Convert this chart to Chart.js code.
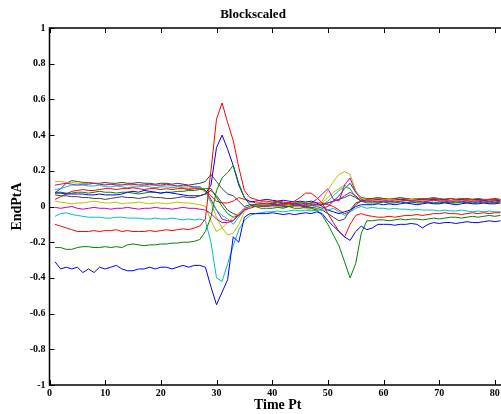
<!DOCTYPE html>
<html>
<head>
<meta charset="utf-8">
<title>Blockscaled</title>
<script src="https://cdn.jsdelivr.net/npm/chart.js@4/dist/chart.umd.min.js"></script>
<style>
  html, body { margin: 0; padding: 0; background: #fff; overflow: hidden; }
  #myChart { display: block; }
</style>
</head>
<body>
<canvas id="myChart" width="506" height="414"></canvas>
<script>
// time points 1..81
const timePts = [1, 2, 3, 4, 5, 6, 7, 8, 9, 10, 11, 12, 13, 14, 15, 16, 17, 18, 19, 20,
  21, 22, 23, 24, 25, 26, 27, 28, 29, 30, 31, 32, 33, 34, 35, 36, 37, 38, 39, 40,
  41, 42, 43, 44, 45, 46, 47, 48, 49, 50, 51, 52, 53, 54, 55, 56, 57, 58, 59, 60,
  61, 62, 63, 64, 65, 66, 67, 68, 69, 70, 71, 72, 73, 74, 75, 76, 77, 78, 79, 80, 81];

const xTicks = [0, 10, 20, 30, 40, 50, 60, 70, 80];

// end point traces, one per channel
const trace01 = [-0.31, -0.35, -0.34, -0.35, -0.34, -0.37, -0.35, -0.37, -0.34, -0.35, -0.34, -0.33, -0.35, -0.36, -0.36, -0.35, -0.35, -0.34, -0.35, -0.34, -0.34, -0.35, -0.34, -0.33, -0.34, -0.33, -0.33,
  -0.34, -0.45, -0.55, -0.48, -0.41, -0.17, -0.2, -0.06, -0.04,
  -0.04, -0.04, -0.04, -0.035, -0.04, -0.045, -0.04, -0.045, -0.04, -0.035, -0.04, -0.03,
  -0.04, -0.08, -0.11, -0.14, -0.17, -0.19, -0.14, -0.11, -0.13,
  -0.12, -0.1, -0.1, -0.1, -0.105, -0.1, -0.1, -0.095, -0.1, -0.12, -0.1, -0.09, -0.095, -0.09, -0.09, -0.095, -0.09, -0.085, -0.09, -0.09, -0.085, -0.08, -0.085, -0.08];
const trace02 = [-0.23, -0.23, -0.24, -0.24, -0.23, -0.225, -0.225, -0.23, -0.23, -0.225, -0.23, -0.225, -0.23, -0.215, -0.21, -0.215, -0.22, -0.215, -0.215, -0.21, -0.21, -0.205, -0.205, -0.2, -0.2, -0.195, -0.185,
  -0.14, -0.06, 0.09, 0.16, 0.19, 0.23, 0.13, 0.05, 0.01,
  0, -0.01, -0.01, -0.01, -0.005, -0.01, 0, -0.01, -0.01, -0.005, -0.01, -0.02,
  -0.05, -0.1, -0.16, -0.22, -0.31, -0.4, -0.32, -0.15, -0.08,
  -0.08, -0.075, -0.075, -0.08, -0.075, -0.07, -0.075, -0.07, -0.07, -0.075, -0.07, -0.065, -0.07, -0.065, -0.06, -0.06, -0.065, -0.06, -0.055, -0.06, -0.055, -0.05, -0.055, -0.05];
const trace03 = [-0.1, -0.11, -0.12, -0.13, -0.14, -0.14, -0.14, -0.135, -0.14, -0.135, -0.135, -0.13, -0.14, -0.135, -0.14, -0.14, -0.14, -0.135, -0.14, -0.135, -0.13, -0.135, -0.13, -0.125, -0.13, -0.12, -0.11,
  -0.07, 0.2, 0.49, 0.58, 0.47, 0.37, 0.22, 0.09, 0.05,
  0.04, 0.03, 0.03, 0.025, 0.03, 0.025, 0.02, 0.03, 0.05, 0.075, 0.075, 0.05,
  0.02, -0.04, -0.09, -0.14, -0.17, -0.1, -0.05, -0.04, -0.05,
  -0.055, -0.06, -0.06, -0.055, -0.06, -0.055, -0.05, -0.05, -0.045, -0.05, -0.045, -0.04, -0.04, -0.035, -0.04, -0.04, -0.045, -0.04, -0.035, -0.04, -0.035, -0.04, -0.035, -0.035];
const trace04 = [-0.055, -0.04, -0.035, -0.045, -0.05, -0.055, -0.06, -0.06, -0.06, -0.065, -0.065, -0.06, -0.06, -0.065, -0.065, -0.065, -0.07, -0.07, -0.065, -0.07, -0.07, -0.065, -0.07, -0.075, -0.07, -0.075, -0.07,
  -0.08, -0.2, -0.4, -0.42, -0.32, -0.22, -0.13, -0.08, -0.05,
  -0.04, -0.035, -0.03, -0.03, -0.025, -0.03, -0.025, -0.02, -0.025, -0.02, -0.025, -0.02,
  -0.02, -0.02, -0.01, -0.03, -0.05, -0.03, -0.01, 0, -0.01,
  -0.005, -0.01, -0.01, -0.015, -0.01, -0.015, -0.015, -0.02, -0.015, -0.02, -0.02, -0.02, -0.025, -0.02, -0.025, -0.025, -0.02, -0.025, -0.03, -0.025, -0.03, -0.025, -0.03, -0.03];
const trace05 = [-0.005, -0.01, -0.005, 0, -0.01, -0.015, -0.01, -0.005, -0.01, -0.01, -0.015, -0.01, -0.01, -0.005, -0.01, -0.015, -0.01, -0.01, -0.005, -0.01, -0.01, -0.015, -0.01, -0.005, -0.01, -0.01, -0.015,
  -0.02, -0.04, -0.07, -0.09, -0.09, -0.08, -0.05, -0.02, -0.01,
  0, 0.005, 0, 0.005, 0.01, 0.005, 0, 0.005, 0.01, 0, 0.005, 0.01,
  0.01, 0.02, 0.03, 0.04, 0.06, 0.08, 0.06, 0.03, 0.03,
  0.03, 0.025, 0.03, 0.03, 0.025, 0.03, 0.035, 0.03, 0.03, 0.025, 0.03, 0.035, 0.03, 0.03, 0.025, 0.03, 0.03, 0.025, 0.03, 0.03, 0.025, 0.03, 0.025, 0.03];
const trace06 = [0.03, 0.025, 0.02, 0.015, 0.02, 0.02, 0.025, 0.03, 0.025, 0.02, 0.02, 0.025, 0.015, 0.02, 0.02, 0.025, 0.02, 0.015, 0.02, 0.02, 0.015, 0.02, 0.025, 0.02, 0.02, 0.015, 0.01,
  0, -0.08, -0.14, -0.12, -0.09, -0.06, -0.04, -0.02, 0,
  0.005, 0.01, 0.01, 0.005, 0, 0.005, 0.01, 0, 0, -0.01, -0.02, -0.02,
  0.03, 0.09, 0.14, 0.18, 0.195, 0.18, 0.09, 0.045, 0.035,
  0.035, 0.03, 0.035, 0.04, 0.035, 0.03, 0.035, 0.04, 0.035, 0.03, 0.035, 0.03, 0.035, 0.03, 0.03, 0.035, 0.03, 0.03, 0.035, 0.03, 0.025, 0.03, 0.03, 0.025];
const trace07 = [0.065, 0.06, 0.06, 0.055, 0.055, 0.05, 0.05, 0.045, 0.045, 0.04, 0.045, 0.05, 0.055, 0.05, 0.05, 0.045, 0.05, 0.055, 0.05, 0.05, 0.045, 0.045, 0.05, 0.055, 0.05, 0.05, 0.06,
  0.07, 0.09, 0.06, 0.02, -0.02, -0.04, -0.05, -0.02, 0,
  0.01, 0, 0.005, 0.01, 0.005, 0, 0, 0.005, 0, 0, -0.005, -0.01,
  -0.02, -0.04, -0.06, -0.08, -0.07, -0.02, 0.02, 0.03, 0.035,
  0.035, 0.04, 0.035, 0.04, 0.035, 0.04, 0.04, 0.035, 0.04, 0.04, 0.035, 0.04, 0.035, 0.04, 0.035, 0.035, 0.04, 0.035, 0.035, 0.04, 0.035, 0.03, 0.035, 0.035];
const trace08 = [0.075, 0.075, 0.07, 0.07, 0.07, 0.07, 0.065, 0.065, 0.07, 0.065, 0.065, 0.065, 0.07, 0.08, 0.085, 0.08, 0.09, 0.085, 0.08, 0.075, 0.08, 0.075, 0.07, 0.065, 0.06, 0.06, 0.06,
  0.07, 0.12, 0.33, 0.4, 0.32, 0.23, 0.12, 0.05, 0.025,
  0.03, 0.035, 0.04, 0.035, 0.03, 0.035, 0.03, 0.025, 0.03, 0.025, 0.03, 0.02,
  0, -0.02, -0.03, -0.04, -0.03, -0.02, 0, 0.01, 0.01,
  0.01, 0.015, 0.01, 0.015, 0.01, 0.015, 0.02, 0.015, 0.01, 0.015, 0.02, 0.015, 0.015, 0.02, 0.015, 0.01, 0.015, 0.02, 0.015, 0.015, 0.02, 0.015, 0.015, 0.02];
const trace09 = [0.08, 0.08, 0.075, 0.075, 0.08, 0.08, 0.075, 0.08, 0.085, 0.08, 0.08, 0.075, 0.08, 0.08, 0.075, 0.07, 0.075, 0.08, 0.08, 0.075, 0.08, 0.08, 0.085, 0.085, 0.09, 0.09, 0.095,
  0.1, 0.1, 0.05, 0, -0.04, -0.06, -0.05, -0.02, 0,
  0.01, 0.015, 0.01, 0.015, 0.02, 0.015, 0.01, 0.015, 0.02, 0.02, 0.015, 0.01,
  0.01, 0.02, 0.03, 0.04, 0.05, 0.065, 0.05, 0.03, 0.02,
  0.02, 0.02, 0.025, 0.02, 0.02, 0.025, 0.02, 0.025, 0.02, 0.02, 0.025, 0.02, 0.02, 0.025, 0.02, 0.02, 0.025, 0.02, 0.02, 0.025, 0.02, 0.02, 0.025, 0.02];
const trace10 = [0.04, 0.055, 0.07, 0.085, 0.09, 0.095, 0.09, 0.09, 0.095, 0.1, 0.1, 0.095, 0.1, 0.1, 0.105, 0.1, 0.095, 0.1, 0.1, 0.095, 0.1, 0.095, 0.1, 0.1, 0.095, 0.1, 0.1,
  0.09, 0.06, 0.03, 0.02, 0.02, 0.03, 0.05, 0.04, 0.03,
  0.02, 0.02, 0.015, 0.02, 0.025, 0.02, 0.015, 0.02, 0.02, 0.015, 0.02, 0.02,
  0.02, 0.01, 0, -0.02, -0.04, -0.03, 0.01, 0.03, 0.04,
  0.045, 0.04, 0.045, 0.04, 0.045, 0.04, 0.045, 0.04, 0.04, 0.045, 0.04, 0.045, 0.04, 0.04, 0.045, 0.04, 0.04, 0.045, 0.04, 0.04, 0.035, 0.04, 0.04, 0.035];
const trace11 = [0.095, 0.1, 0.11, 0.12, 0.12, 0.12, 0.115, 0.115, 0.12, 0.11, 0.11, 0.115, 0.11, 0.105, 0.11, 0.11, 0.115, 0.11, 0.105, 0.11, 0.11, 0.105, 0.11, 0.105, 0.1, 0.105, 0.11,
  0.09, 0.03, -0.02, -0.05, -0.07, -0.1, -0.06, -0.02, 0,
  0.01, 0.005, 0, 0.005, 0, -0.005, 0, 0.005, 0, 0, -0.005, 0,
  0.01, 0.03, 0.06, 0.09, 0.11, 0.1, 0.05, 0.03, 0.03,
  0.025, 0.03, 0.025, 0.03, 0.025, 0.03, 0.025, 0.02, 0.025, 0.03, 0.025, 0.02, 0.025, 0.025, 0.02, 0.025, 0.02, 0.025, 0.02, 0.02, 0.025, 0.02, 0.02, 0.025];
const trace12 = [0.12, 0.125, 0.13, 0.125, 0.12, 0.125, 0.125, 0.13, 0.125, 0.12, 0.125, 0.12, 0.12, 0.125, 0.125, 0.12, 0.12, 0.125, 0.12, 0.12, 0.125, 0.12, 0.115, 0.12, 0.115, 0.11, 0.11,
  0.09, 0.04, -0.02, -0.07, -0.08, -0.08, -0.04, -0.01, 0,
  0.005, 0.01, 0.005, 0.01, 0.005, 0.01, 0.015, 0.01, 0.005, 0.01, 0.02, 0.04,
  0.07, 0.1, 0.04, 0.03, 0.12, 0.16, 0.08, 0.04, 0.035,
  0.035, 0.03, 0.035, 0.03, 0.035, 0.04, 0.035, 0.03, 0.035, 0.03, 0.035, 0.04, 0.035, 0.035, 0.03, 0.035, 0.03, 0.035, 0.03, 0.035, 0.03, 0.03, 0.035, 0.03];
const trace13 = [0.14, 0.14, 0.135, 0.135, 0.13, 0.13, 0.13, 0.13, 0.125, 0.125, 0.125, 0.12, 0.125, 0.12, 0.12, 0.125, 0.12, 0.12, 0.12, 0.115, 0.12, 0.115, 0.115, 0.11, 0.11, 0.105, 0.105,
  0.08, 0.02, -0.06, -0.12, -0.16, -0.15, -0.1, -0.03, 0,
  0, 0.005, 0.01, 0, 0.005, 0.01, 0.005, 0, 0.005, 0.01, 0.005, 0.01,
  0.02, 0.05, 0.08, 0.1, 0.12, 0.1, 0.05, 0.04, 0.04,
  0.04, 0.045, 0.04, 0.045, 0.04, 0.04, 0.045, 0.04, 0.045, 0.04, 0.04, 0.045, 0.04, 0.04, 0.045, 0.04, 0.04, 0.035, 0.04, 0.04, 0.035, 0.04, 0.04, 0.035];
const trace14 = [0.077, 0.1, 0.13, 0.145, 0.14, 0.135, 0.135, 0.13, 0.13, 0.135, 0.13, 0.13, 0.135, 0.13, 0.13, 0.135, 0.13, 0.13, 0.125, 0.13, 0.13, 0.125, 0.13, 0.125, 0.12, 0.125, 0.13,
  0.14, 0.18, 0.14, 0.1, 0.07, 0.06, 0.03, 0, 0.01,
  0.01, 0.015, 0.02, 0.015, 0.01, 0.015, 0.02, 0.015, 0.01, 0.005, 0.01, 0,
  -0.01, 0, 0.03, 0.06, 0.1, 0.13, 0.08, 0.05, 0.045,
  0.045, 0.05, 0.045, 0.04, 0.045, 0.05, 0.045, 0.04, 0.045, 0.04, 0.045, 0.05, 0.045, 0.04, 0.045, 0.04, 0.045, 0.04, 0.04, 0.045, 0.04, 0.04, 0.045, 0.04];

const traces = [trace01, trace02, trace03, trace04, trace05, trace06, trace07,
  trace08, trace09, trace10, trace11, trace12, trace13, trace14];

// b g r c m y k, repeated
const lineColors = ['#0000ff', '#008000', '#ff0000', '#00bfbf', '#bf00bf', '#bfbf00', '#404040'];

const serif = '"Liberation Serif", "Times New Roman", serif';

// box round the axes with the ticks pointing inwards
const boxTicks = {
  id: 'boxTicks',
  afterDatasetsDraw: function (chart) {
    const ctx = chart.ctx;
    const area = chart.chartArea;
    const xs = chart.scales.x;
    const ys = chart.scales.y;
    const len = 5;
    ctx.save();
    ctx.strokeStyle = '#000';
    ctx.lineWidth = 1;
    ctx.beginPath();
    xs.ticks.forEach(function (t) {
      const px = Math.round(xs.getPixelForValue(t.value)) + 0.5;
      ctx.moveTo(px, area.bottom);
      ctx.lineTo(px, area.bottom - len);
      ctx.moveTo(px, area.top);
      ctx.lineTo(px, area.top + len);
    });
    ys.ticks.forEach(function (t) {
      const py = Math.round(ys.getPixelForValue(t.value)) + 0.5;
      ctx.moveTo(area.left, py);
      ctx.lineTo(area.left + len, py);
      ctx.moveTo(area.right, py);
      ctx.lineTo(area.right - len, py);
    });
    ctx.stroke();
    ctx.lineWidth = 1.5;
    ctx.strokeRect(area.left, area.top, area.right - area.left, area.bottom - area.top);
    ctx.restore();
  }
};

const makeChart = function () {
  const datasets = traces.map(function (trace, i) {
    return {
      label: 'ch' + (i + 1),
      data: timePts.map(function (t, j) { return { x: t, y: trace[j] }; }),
      borderColor: lineColors[i % lineColors.length],
      borderWidth: 1,
      pointRadius: 0,
      tension: 0,
      fill: false
    };
  });

  new Chart(document.getElementById('myChart').getContext('2d'), {
    type: 'line',
    data: { datasets: datasets },
    options: {
      responsive: false,
      animation: false,
      layout: { padding: { left: 0, right: 0, top: 0, bottom: 0 } },
      plugins: {
        legend: { display: false },
        tooltip: { enabled: false },
        title: {
          display: true,
          text: 'Blockscaled',
          color: '#000',
          font: { family: serif, size: 13, weight: 'bold' },
          padding: { top: 7, bottom: 5.4 }
        }
      },
      scales: {
        x: {
          type: 'linear',
          min: 0,
          max: 82,
          afterBuildTicks: function (scale) {
            scale.ticks = xTicks.map(function (v) { return { value: v }; });
          },
          afterFit: function (scale) { scale.height = 29; },
          grid: { display: false, drawTicks: false },
          border: { display: false },
          ticks: {
            color: '#000',
            padding: 2,
            maxRotation: 0,
            font: { family: serif, size: 10, weight: 'bold' }
          },
          title: {
            display: true,
            text: 'Time Pt',
            color: '#000',
            padding: { top: 0, bottom: 0 },
            font: { family: serif, size: 14, weight: 'bold' }
          }
        },
        y: {
          min: -1,
          max: 1,
          afterFit: function (scale) { scale.width = 49.5; },
          grid: { display: false, drawTicks: false },
          border: { display: false },
          ticks: {
            stepSize: 0.2,
            color: '#000',
            padding: 4,
            font: { family: serif, size: 10, weight: 'bold' },
            callback: function (value) {
              return String(Number(value.toFixed(1)));
            }
          },
          title: {
            display: true,
            text: 'EndPtA',
            color: '#000',
            padding: { top: 9, bottom: 0 },
            font: { family: serif, size: 14, weight: 'bold' }
          }
        }
      }
    },
    plugins: [boxTicks]
  });
};

document.addEventListener('DOMContentLoaded', function () {
  makeChart();
});
</script>
</body>
</html>
